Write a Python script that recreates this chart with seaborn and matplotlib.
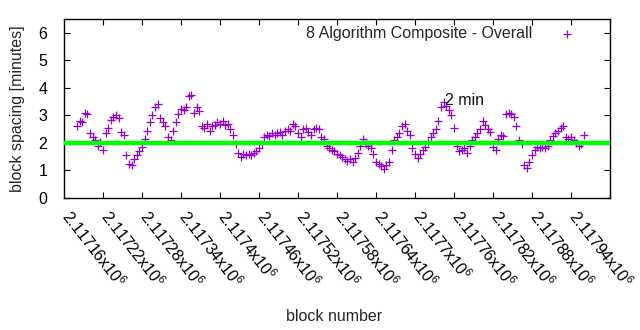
import numpy as np
import pandas as pd
import matplotlib
matplotlib.use("Agg")
import matplotlib.pyplot as plt
import matplotlib.transforms as mtransforms
import seaborn as sns

# ---- data ----
blocks = np.arange(2117120, 2117904, 4)
spacing = [
    2.6, 2.8, 2.75, 3.1, 3.05, 2.35, 2.2, 2.1, 1.9, 2.05,
    1.75, 2.35, 2.55, 2.85, 2.95, 3.0, 2.9, 2.4, 2.3, 1.55,
    1.25, 1.2, 1.4, 1.55, 1.7, 1.85, 2.15, 2.45, 2.75, 3.0,
    3.3, 3.4, 2.9, 2.75, 2.6, 2.2, 2.1, 2.45, 2.75, 3.05,
    3.25, 3.2, 3.3, 3.7, 3.75, 3.1, 3.3, 3.15, 2.6, 2.55,
    2.7, 2.45, 2.6, 2.65, 2.75, 2.7, 2.8, 2.65, 2.7, 2.5,
    2.3, 1.95, 1.65, 1.5, 1.6, 1.55, 1.6, 1.55, 1.65, 1.7,
    1.8, 1.95, 2.2, 2.3, 2.25, 2.35, 2.3, 2.35, 2.4, 2.3,
    2.45, 2.5, 2.45, 2.7, 2.6, 2.35, 2.2, 2.5, 2.55, 2.4,
    2.3, 2.5, 2.55, 2.5, 2.2, 2.15, 1.9, 1.8, 1.75, 1.7,
    1.6, 1.55, 1.5, 1.4, 1.35, 1.4, 1.3, 1.45, 1.65, 1.9,
    2.15, 1.95, 1.9, 1.8, 1.6, 1.3, 1.25, 1.15, 1.05, 1.2,
    1.3, 1.75, 2.1, 2.2, 2.35, 2.6, 2.7, 2.45, 2.3, 1.8,
    1.6, 1.45, 1.6, 1.75, 1.85, 2.05, 2.2, 2.35, 2.5, 2.8,
    3.3, 3.5, 3.35, 3.2, 3.0, 2.55, 1.9, 1.7, 1.75, 1.8,
    1.65, 1.9, 2.1, 2.2, 2.35, 2.5, 2.8, 2.65, 2.5, 2.4,
    1.85, 1.75, 2.15, 2.3, 2.25, 3.05, 3.1, 3.05, 2.95, 2.6,
    2.1, 1.95, 1.2, 1.1, 1.3, 1.55, 1.75, 1.85, 1.8, 1.85,
    1.8, 1.9, 2.1, 2.25, 2.35, 2.45, 2.55, 2.6, 2.2, 2.15,
    2.2, 2.1, 2.0, 1.9, 1.95, 2.3,
]
target_minutes = 2
series_label = "8 Algorithm Composite - Overall"
target_label = "2 min"
target_label_pos = (2117686, 3.54)
x_ticks = [2117160, 2117220, 2117280, 2117340, 2117400, 2117460, 2117520,
           2117580, 2117640, 2117700, 2117760, 2117820, 2117880, 2117940]
x_tick_labels = ["2.11716", "2.11722", "2.11728", "2.11734", "2.1174",
                 "2.11746", "2.11752", "2.11758", "2.11764", "2.1177",
                 "2.11776", "2.11782", "2.11788", "2.11794"]
y_ticks = [0, 1, 2, 3, 4, 5, 6]

df = pd.DataFrame({"block": blocks, "spacing": spacing})

sns.set_style("white")
plt.rcParams["font.family"] = ["Liberation Sans", "DejaVu Sans"]
plt.rcParams["mathtext.fontset"] = "custom"
plt.rcParams["mathtext.rm"] = "Liberation Sans"

FS = 11.5
fig = plt.figure(figsize=(6.4, 3.3), dpi=100)
ax = fig.add_axes([0.1, 0.4, 0.853, 0.5424])

purple = "#9400D3"
sns.scatterplot(data=df, x="block", y="spacing", marker="+", s=30,
                color=purple, linewidth=0.9, ax=ax, label=series_label, zorder=2)
ax.axhline(target_minutes, color="#00FF00", lw=3.2, zorder=3)
ax.text(target_label_pos[0], target_label_pos[1], target_label,
        fontsize=FS, va="center", ha="left", color="#111111", zorder=4)

ax.set_xlim(2117100, 2117940)
ax.set_ylim(0, 6.5)
ax.tick_params(direction="in", length=4, width=0.8, top=True, right=True,
               bottom=True, left=True, colors="black")
ax.tick_params(axis="y", pad=12)
ax.tick_params(axis="x", pad=2)
ax.set_yticks(y_ticks)
ax.set_yticklabels([str(v) for v in y_ticks], fontsize=FS)
ax.set_xticks(x_ticks)
ax.set_xticklabels([t + r"x10$^{\mathregular{6}}$" for t in x_tick_labels],
                   fontsize=FS, rotation=-52, ha="left", va="top",
                   rotation_mode="anchor")
offset = mtransforms.ScaledTranslation(-0.30, -0.06, fig.dpi_scale_trans)
for lab in ax.get_xticklabels():
    lab.set_transform(lab.get_transform() + offset)

for sp in ax.spines.values():
    sp.set_color("black")
    sp.set_linewidth(1.0)

ax.set_xlabel("block number", fontsize=FS)
ax.xaxis.set_label_coords(0.495, -0.62)
ax.set_ylabel("block spacing [minutes]", fontsize=FS)
ax.yaxis.set_label_coords(-0.071, 0.5)

leg = ax.legend(loc="upper right", bbox_to_anchor=(0.968, 1.013),
                markerfirst=False, frameon=False, fontsize=FS,
                handletextpad=1.2, borderaxespad=0.2)
for h in leg.legend_handles:
    h.set_sizes([26])

fig.savefig("out.png", dpi=100)
